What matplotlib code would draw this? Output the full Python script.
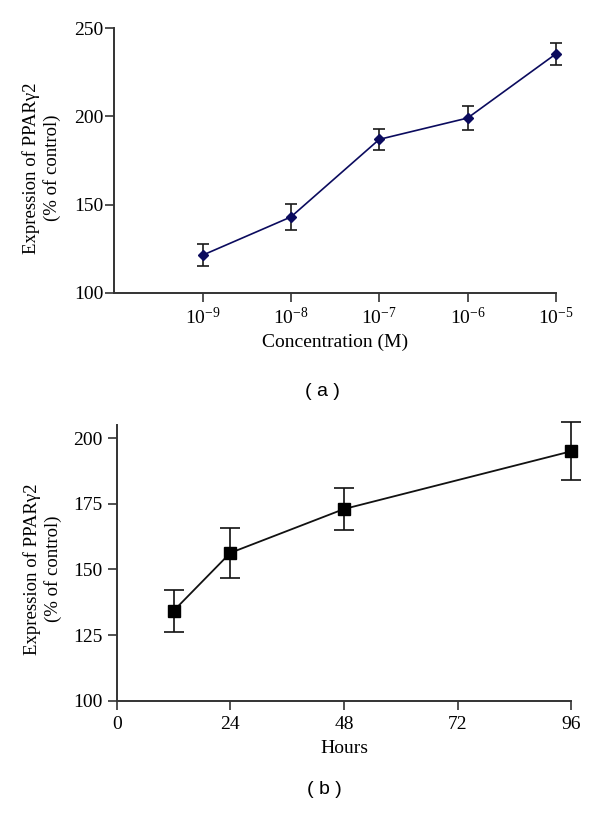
import matplotlib
matplotlib.use("Agg")
import matplotlib.pyplot as plt

plt.rcParams['font.family'] = ['Liberation Serif', 'DejaVu Serif']
plt.rcParams['mathtext.fontset'] = 'custom'
plt.rcParams['mathtext.rm'] = 'Liberation Serif'
plt.rcParams['mathtext.it'] = 'Liberation Serif:italic'

# Panel (a): concentration response
conc = [1e-9, 1e-8, 1e-7, 1e-6, 1e-5]
conc_labels = [r'$10^{-9}$', r'$10^{-8}$', r'$10^{-7}$', r'$10^{-6}$', r'$10^{-5}$']
expr_a = [121.3, 143.0, 187.0, 199.1, 235.5]
err_a = [6.4, 7.6, 6.0, 7.0, 6.4]
yticks_a = [100, 150, 200, 250]

# Panel (b): time course
hours = [12, 24, 48, 96]
expr_b = [134.2, 156.3, 173.0, 195.0]
err_b = [8.0, 9.5, 8.0, 11.0]
xticks_b = [0, 24, 48, 72, 96]
yticks_b = [100, 125, 150, 175, 200]

ylabel = 'Expression of PPAR\u03b32\n(% of control)'
spine_col = '#333333'

fig = plt.figure(figsize=(6.0, 8.14), dpi=100)

# ---------- panel a ----------
axa = fig.add_axes([0.1905, 0.6404, 0.736, 0.3248])
axa.errorbar(conc, expr_a, yerr=err_a, fmt='none', ecolor='#1a1a1a',
             elinewidth=1.2, capsize=4, capthick=1.2, zorder=2, clip_on=False)
axa.plot(conc, expr_a, color='#0b0b5e', lw=1.2, marker='D', markersize=5,
         markerfacecolor='#0b0b5e', markeredgecolor='#0b0b5e', zorder=3,
         clip_on=False)
axa.set_xscale('log')
axa.set_xlim(1e-10, 1e-5)
axa.set_ylim(100, 250)
axa.set_xticks(conc)
axa.set_xticklabels(conc_labels)
axa.xaxis.set_minor_locator(matplotlib.ticker.NullLocator())
axa.set_yticks(yticks_a)
axa.tick_params(axis='x', direction='out', length=6.3, width=1.2,
                labelsize=14, pad=4, color=spine_col)
axa.tick_params(axis='y', direction='out', length=6.3, width=1.2,
                labelsize=14, pad=1.5, color=spine_col)
axa.set_xlabel('Concentration (M)', fontsize=14, labelpad=4)
axa.set_ylabel(ylabel, fontsize=13.5, va='center', linespacing=1.2)
axa.yaxis.set_label_coords(-0.165, 0.4716)

# ---------- panel b ----------
axb = fig.add_axes([0.1945, 0.1392, 0.7577, 0.3387])
axb.errorbar(hours, expr_b, yerr=err_b, fmt='none', ecolor='#111111',
             elinewidth=1.2, capsize=7, capthick=1.2, zorder=2, clip_on=False)
axb.plot(hours, expr_b, color='#111111', lw=1.3, marker='s', markersize=8,
         markerfacecolor='black', markeredgecolor='black', zorder=3,
         clip_on=False)
axb.set_xlim(0, 96)
axb.set_ylim(100, 205)
axb.set_xticks(xticks_b)
axb.set_yticks(yticks_b)
axb.tick_params(axis='x', direction='out', length=6.3, width=1.2,
                labelsize=14, pad=5, color=spine_col)
axb.tick_params(axis='y', direction='out', length=6.3, width=1.2,
                labelsize=14, pad=4, color=spine_col)
axb.set_xlabel('Hours', fontsize=14, labelpad=5)
axb.set_ylabel(ylabel, fontsize=13.5, va='center', linespacing=1.2)
axb.yaxis.set_label_coords(-0.163, 0.478)

for ax in (axa, axb):
    for s in ('top', 'right'):
        ax.spines[s].set_visible(False)
    for s in ('left', 'bottom'):
        ax.spines[s].set_linewidth(1.4)
        ax.spines[s].set_color(spine_col)
    ax.patch.set_alpha(0)

fig.text(0.538, 1 - 391 / 814, '( a )', ha='center', va='center',
         fontsize=14, family=['Liberation Sans', 'DejaVu Sans'])
fig.text(0.540, 1 - 790 / 814, '( b )', ha='center', va='center',
         fontsize=14, family=['Liberation Sans', 'DejaVu Sans'])

fig.savefig('out.png', dpi=100)
